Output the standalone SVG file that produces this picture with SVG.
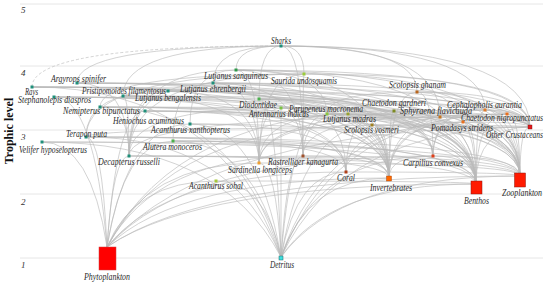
<svg xmlns="http://www.w3.org/2000/svg" width="550" height="286" viewBox="0 0 550 286">
<style>
.e{fill:none;stroke:#b9b9b9;stroke-width:0.75;opacity:0.85}
.g{stroke:#e6e6e6;stroke-width:1}
.l{font-family:"Liberation Serif","Times New Roman",serif;font-style:italic;font-size:9.5px;fill:#2b2b2b}
.ax{font-family:"Liberation Serif","Times New Roman",serif;font-style:italic;font-size:9px;fill:#333}
</style>
<rect width="550" height="286" fill="#fff"/>
<g id="axis">
<line class="g" x1="20" y1="4" x2="543" y2="4" stroke-width="2"/>
<line class="g" x1="20" y1="66" x2="543" y2="66"/>
<line class="g" x1="20" y1="130" x2="543" y2="130"/>
<line class="g" x1="20" y1="194" x2="543" y2="194"/>
<line class="g" x1="20" y1="258" x2="543" y2="258"/>
<text class="ax" x="21" y="13">5</text>
<text class="ax" x="21" y="76">4</text>
<text class="ax" x="21" y="140">3</text>
<text class="ax" x="21" y="205">2</text>
<text class="ax" x="21" y="268">1</text>
<text x="0" y="0" transform="translate(13,131) rotate(-90)" text-anchor="middle" font-family="'Liberation Serif','Times New Roman',serif" font-weight="bold" font-size="12" fill="#111">Trophic level</text>
</g>
<g id="edges">
<path class="e" d="M107,247Q210,176 520,176"/>
<path class="e" d="M281,257Q341,176 520,176"/>
<path class="e" d="M107,247Q199,184 476,184"/>
<path class="e" d="M281,257Q330,184 476,184"/>
<path class="e" d="M107,247Q178,178 389,178"/>
<path class="e" d="M281,257Q308,178 389,178"/>
<path class="e" d="M107,247Q167,172 346,172"/>
<path class="e" d="M520,176Q520,172 346,172"/>
<path class="e" d="M281,257Q297,172 346,172"/>
<path class="e" d="M107,247Q213,127 530,127"/>
<path class="e" d="M281,257Q343,127 530,127"/>
<path class="e" d="M520,176Q520,127 530,127"/>
<path class="e" d="M476,184Q476,127 530,127"/>
<path class="e" d="M476,184Q476,156 433,156"/>
<path class="e" d="M389,178Q389,156 433,156"/>
<path class="e" d="M520,176Q520,156 433,156"/>
<path class="e" d="M281,257Q319,156 433,156"/>
<path class="e" d="M107,247Q189,156 433,156"/>
<path class="e" d="M107,247Q134,181 216,181"/>
<path class="e" d="M281,257Q265,181 216,181"/>
<path class="e" d="M476,184Q476,181 216,181"/>
<path class="e" d="M107,247Q145,163 259,163"/>
<path class="e" d="M520,176Q520,163 259,163"/>
<path class="e" d="M281,257Q276,163 259,163"/>
<path class="e" d="M520,176Q520,156 303,156"/>
<path class="e" d="M107,247Q156,156 303,156"/>
<path class="e" d="M281,257Q287,156 303,156"/>
<path class="e" d="M389,178Q389,156 303,156"/>
<path class="e" d="M520,176Q520,156 129,156"/>
<path class="e" d="M107,247Q113,156 129,156"/>
<path class="e" d="M476,184Q476,156 129,156"/>
<path class="e" d="M389,178Q389,156 129,156"/>
<path class="e" d="M107,247Q124,141 173,141"/>
<path class="e" d="M476,184Q476,141 173,141"/>
<path class="e" d="M389,178Q389,141 173,141"/>
<path class="e" d="M346,172Q346,141 173,141"/>
<path class="e" d="M281,257Q254,141 173,141"/>
<path class="e" d="M520,176Q520,142 42,142"/>
<path class="e" d="M107,247Q91,142 42,142"/>
<path class="e" d="M476,184Q476,142 42,142"/>
<path class="e" d="M281,257Q221,142 42,142"/>
<path class="e" d="M107,247Q102,137 86,137"/>
<path class="e" d="M476,184Q476,137 86,137"/>
<path class="e" d="M389,178Q389,137 86,137"/>
<path class="e" d="M281,257Q232,137 86,137"/>
<path class="e" d="M520,176Q520,137 86,137"/>
<path class="e" d="M86,137Q86,127 530,127"/>
<path class="e" d="M107,247Q128,124 190,124"/>
<path class="e" d="M281,257Q258,124 190,124"/>
<path class="e" d="M476,184Q476,124 190,124"/>
<path class="e" d="M346,172Q346,124 190,124"/>
<path class="e" d="M476,184Q476,125 372,125"/>
<path class="e" d="M389,178Q389,125 372,125"/>
<path class="e" d="M520,176Q520,125 372,125"/>
<path class="e" d="M530,127Q530,125 372,125"/>
<path class="e" d="M281,257Q304,125 372,125"/>
<path class="e" d="M107,247Q173,125 372,125"/>
<path class="e" d="M476,184Q476,122 463,122"/>
<path class="e" d="M389,178Q389,122 463,122"/>
<path class="e" d="M530,127Q530,122 463,122"/>
<path class="e" d="M520,176Q520,122 463,122"/>
<path class="e" d="M433,156Q433,122 463,122"/>
<path class="e" d="M281,257Q327,122 463,122"/>
<path class="e" d="M346,172Q346,111 145,111"/>
<path class="e" d="M520,176Q520,111 145,111"/>
<path class="e" d="M476,184Q476,111 145,111"/>
<path class="e" d="M389,178Q389,111 145,111"/>
<path class="e" d="M107,247Q117,111 145,111"/>
<path class="e" d="M476,184Q476,107 100,107"/>
<path class="e" d="M389,178Q389,107 100,107"/>
<path class="e" d="M530,127Q530,107 100,107"/>
<path class="e" d="M520,176Q520,107 100,107"/>
<path class="e" d="M129,156Q129,107 100,107"/>
<path class="e" d="M281,257Q236,107 100,107"/>
<path class="e" d="M259,163Q259,108 281,108"/>
<path class="e" d="M129,156Q129,108 281,108"/>
<path class="e" d="M476,184Q476,108 281,108"/>
<path class="e" d="M530,127Q530,108 281,108"/>
<path class="e" d="M389,178Q389,108 281,108"/>
<path class="e" d="M281,257L281,108"/>
<path class="e" d="M476,184Q476,114 327,114"/>
<path class="e" d="M389,178Q389,114 327,114"/>
<path class="e" d="M530,127Q530,114 327,114"/>
<path class="e" d="M520,176Q520,114 327,114"/>
<path class="e" d="M433,156Q433,114 327,114"/>
<path class="e" d="M281,257Q293,114 327,114"/>
<path class="e" d="M530,127Q530,114 348,114"/>
<path class="e" d="M476,184Q476,114 348,114"/>
<path class="e" d="M389,178Q389,114 348,114"/>
<path class="e" d="M259,163Q259,114 348,114"/>
<path class="e" d="M303,156Q303,114 348,114"/>
<path class="e" d="M520,176Q520,114 348,114"/>
<path class="e" d="M346,172Q346,111 394,111"/>
<path class="e" d="M520,176Q520,111 394,111"/>
<path class="e" d="M476,184Q476,111 394,111"/>
<path class="e" d="M389,178Q389,111 394,111"/>
<path class="e" d="M107,247Q179,111 394,111"/>
<path class="e" d="M259,163Q259,117 440,117"/>
<path class="e" d="M303,156Q303,117 440,117"/>
<path class="e" d="M129,156Q129,117 440,117"/>
<path class="e" d="M530,127Q530,117 440,117"/>
<path class="e" d="M520,176Q520,117 440,117"/>
<path class="e" d="M530,127Q530,110 485,110"/>
<path class="e" d="M476,184Q476,110 485,110"/>
<path class="e" d="M433,156Q433,110 485,110"/>
<path class="e" d="M389,178Q389,110 485,110"/>
<path class="e" d="M520,176Q520,110 485,110"/>
<path class="e" d="M259,163Q259,110 485,110"/>
<path class="e" d="M346,172Q346,114 507,114"/>
<path class="e" d="M520,176Q520,114 507,114"/>
<path class="e" d="M476,184Q476,114 507,114"/>
<path class="e" d="M389,178Q389,114 507,114"/>
<path class="e" d="M281,257Q338,114 507,114"/>
<path class="e" d="M476,184Q476,99 259,99"/>
<path class="e" d="M389,178Q389,99 259,99"/>
<path class="e" d="M433,156Q433,99 259,99"/>
<path class="e" d="M346,172Q346,99 259,99"/>
<path class="e" d="M530,127Q530,99 259,99"/>
<path class="e" d="M281,257Q276,99 259,99"/>
<path class="e" d="M476,184Q476,97 54,97"/>
<path class="e" d="M389,178Q389,97 54,97"/>
<path class="e" d="M107,247Q94,97 54,97"/>
<path class="e" d="M346,172Q346,97 54,97"/>
<path class="e" d="M520,176Q520,97 54,97"/>
<path class="e" d="M530,127Q530,96 123,96"/>
<path class="e" d="M476,184Q476,96 123,96"/>
<path class="e" d="M520,176Q520,96 123,96"/>
<path class="e" d="M129,156Q129,96 123,96"/>
<path class="e" d="M259,163Q259,96 123,96"/>
<path class="e" d="M389,178Q389,96 123,96"/>
<path class="e" d="M530,127Q530,91 168,91"/>
<path class="e" d="M476,184Q476,91 168,91"/>
<path class="e" d="M389,178Q389,91 168,91"/>
<path class="e" d="M259,163Q259,91 168,91"/>
<path class="e" d="M129,156Q129,91 168,91"/>
<path class="e" d="M86,137Q86,91 168,91"/>
<path class="e" d="M520,176Q520,91 168,91"/>
<path class="e" d="M530,127Q530,83 213,83"/>
<path class="e" d="M476,184Q476,83 213,83"/>
<path class="e" d="M389,178Q389,83 213,83"/>
<path class="e" d="M259,163Q259,83 213,83"/>
<path class="e" d="M303,156Q303,83 213,83"/>
<path class="e" d="M129,156Q129,83 213,83"/>
<path class="e" d="M173,141Q173,83 213,83"/>
<path class="e" d="M520,176Q520,83 213,83"/>
<path class="e" d="M476,184Q476,87 32,87"/>
<path class="e" d="M389,178Q389,87 32,87"/>
<path class="e" d="M530,127Q530,87 32,87"/>
<path class="e" d="M433,156Q433,87 32,87"/>
<path class="e" d="M281,257Q219,87 32,87"/>
<path class="e" d="M520,176Q520,87 32,87"/>
<path class="e" d="M476,184Q476,83 77,83"/>
<path class="e" d="M389,178Q389,83 77,83"/>
<path class="e" d="M530,127Q530,83 77,83"/>
<path class="e" d="M433,156Q433,83 77,83"/>
<path class="e" d="M520,176Q520,83 77,83"/>
<path class="e" d="M129,156Q129,83 77,83"/>
<path class="e" d="M476,184Q476,92 417,92"/>
<path class="e" d="M389,178Q389,92 417,92"/>
<path class="e" d="M530,127Q530,92 417,92"/>
<path class="e" d="M520,176Q520,92 417,92"/>
<path class="e" d="M433,156Q433,92 417,92"/>
<path class="e" d="M327,114Q327,92 417,92"/>
<path class="e" d="M259,163Q259,74 304,74"/>
<path class="e" d="M303,156Q303,74 304,74"/>
<path class="e" d="M129,156Q129,74 304,74"/>
<path class="e" d="M530,127Q530,74 304,74"/>
<path class="e" d="M520,176Q520,74 304,74"/>
<path class="e" d="M86,137Q86,74 304,74"/>
<path class="e" d="M100,107Q100,74 304,74"/>
<path class="e" d="M530,127Q530,70 236,70"/>
<path class="e" d="M476,184Q476,70 236,70"/>
<path class="e" d="M389,178Q389,70 236,70"/>
<path class="e" d="M259,163Q259,70 236,70"/>
<path class="e" d="M303,156Q303,70 236,70"/>
<path class="e" d="M129,156Q129,70 236,70"/>
<path class="e" d="M190,124Q190,70 236,70"/>
<path class="e" d="M327,114Q327,70 236,70"/>
<path class="e" d="M520,176Q520,70 236,70"/>
<path class="e" d="M32,87Q32,46 281,46" stroke-dasharray="3,2"/>
<path class="e" d="M236,70Q236,46 281,46"/>
<path class="e" d="M304,74Q304,46 281,46"/>
<path class="e" d="M417,92Q417,46 281,46"/>
<path class="e" d="M213,83Q213,46 281,46"/>
<path class="e" d="M123,96Q123,46 281,46"/>
<path class="e" d="M77,83Q77,46 281,46"/>
<path class="e" d="M440,117Q440,46 281,46"/>
<path class="e" d="M259,99Q259,46 281,46"/>
<path class="e" d="M485,110Q485,46 281,46"/>
<path class="e" d="M530,127Q530,46 281,46"/>
<path class="e" d="M303,156Q303,46 281,46"/>
</g>
<g id="sharks"><rect x="279.5" y="44.5" width="3" height="3" fill="#1f8f7a"/><text class="l" x="271" y="44" textLength="20" lengthAdjust="spacingAndGlyphs">Sharks</text></g>
<g id="lutjanus-sanguineus"><rect x="234.5" y="68.5" width="3" height="3" fill="#2e9a4a"/><text class="l" x="204" y="79" textLength="64" lengthAdjust="spacingAndGlyphs">Lutjanus sanguineus</text></g>
<g id="saurida-undosquamis"><rect x="302.5" y="72.5" width="3" height="3" fill="#9ccc3a"/><text class="l" x="271" y="84" textLength="66" lengthAdjust="spacingAndGlyphs">Saurida undosquamis</text></g>
<g id="scolopsis-ghanam"><rect x="415.5" y="90.5" width="3" height="3" fill="#b8661e"/><text class="l" x="389" y="88" textLength="57" lengthAdjust="spacingAndGlyphs">Scolopsis ghanam</text></g>
<g id="argyrops-spinifer"><rect x="75.5" y="81.5" width="3" height="3" fill="#1f8f7a"/><text class="l" x="51" y="82" textLength="55" lengthAdjust="spacingAndGlyphs">Argyrops spinifer</text></g>
<g id="rays"><rect x="30.5" y="85.5" width="3" height="3" fill="#1f8f7a"/><text class="l" x="25" y="95" textLength="13" lengthAdjust="spacingAndGlyphs">Rays</text></g>
<g id="lutjanus-ehrenbergii"><rect x="211.5" y="81.5" width="3" height="3" fill="#1f8f7a"/><text class="l" x="180" y="92" textLength="66" lengthAdjust="spacingAndGlyphs">Lutjanus ehrenbergii</text></g>
<g id="lutjanus-bengalensis"><rect x="166.5" y="89.5" width="3" height="3" fill="#1f8f7a"/><text class="l" x="135" y="101" textLength="66" lengthAdjust="spacingAndGlyphs">Lutjanus bengalensis</text></g>
<g id="pristipomoides-filamentosus"><rect x="121.5" y="94.5" width="3" height="3" fill="#1f8f7a"/><text class="l" x="82" y="94" textLength="84" lengthAdjust="spacingAndGlyphs">Pristipomoides filamentosus</text></g>
<g id="stephanolepis-diaspros"><rect x="52.5" y="95.5" width="3" height="3" fill="#1f8f7a"/><text class="l" x="18" y="103" textLength="73" lengthAdjust="spacingAndGlyphs">Stephanolepis diaspros</text></g>
<g id="diodontidae"><rect x="257.5" y="97.5" width="3" height="3" fill="#4caf50"/><text class="l" x="239" y="108" textLength="38" lengthAdjust="spacingAndGlyphs">Diodontidae</text></g>
<g id="antennarius-indicus"><rect x="279.5" y="106.5" width="3" height="3" fill="#7cc242"/><text class="l" x="249" y="117" textLength="60" lengthAdjust="spacingAndGlyphs">Antennarius indicus</text></g>
<g id="parupeneus-macronema"><rect x="325.5" y="112.5" width="3" height="3" fill="#8cc63f"/><text class="l" x="289" y="112" textLength="74" lengthAdjust="spacingAndGlyphs">Parupeneus macronema</text></g>
<g id="lutjanus-madras"><rect x="346.5" y="112.5" width="3" height="3" fill="#98a030"/><text class="l" x="323" y="122" textLength="53" lengthAdjust="spacingAndGlyphs">Lutjanus madras</text></g>
<g id="chaetodon-gardneri"><rect x="392.5" y="109.5" width="3" height="3" fill="#7d8a22"/><text class="l" x="362" y="106" textLength="64" lengthAdjust="spacingAndGlyphs">Chaetodon gardneri</text></g>
<g id="sphyraena-flavicauda"><rect x="438.5" y="115.5" width="3" height="3" fill="#c8751e"/><text class="l" x="400" y="114" textLength="72" lengthAdjust="spacingAndGlyphs">Sphyraena flavicauda</text></g>
<g id="cephalopholis-aurantia"><rect x="483.5" y="108.5" width="3" height="3" fill="#e07b2a"/><text class="l" x="447" y="108" textLength="75" lengthAdjust="spacingAndGlyphs">Cephalopholis aurantia</text></g>
<g id="chaetodon-nigropunctatus"><rect x="505.5" y="112.5" width="3" height="3" fill="#e8701e"/><text class="l" x="461" y="121" textLength="82" lengthAdjust="spacingAndGlyphs">Chaetodon nigropunctatus</text></g>
<g id="pomadasys-stridens"><rect x="461.5" y="120.5" width="3" height="3" fill="#e8701e"/><text class="l" x="431" y="131" textLength="62" lengthAdjust="spacingAndGlyphs">Pomadasys stridens</text></g>
<g id="other-crustaceans"><rect x="528" y="125" width="4" height="4" fill="#e41a1c" stroke="#7a1010" stroke-width="0.4"/><text class="l" x="486" y="138" textLength="57" lengthAdjust="spacingAndGlyphs">Other Crustaceans</text></g>
<g id="scolopsis-vosmeri"><rect x="370.5" y="123.5" width="3" height="3" fill="#a08020"/><text class="l" x="344" y="133" textLength="55" lengthAdjust="spacingAndGlyphs">Scolopsis vosmeri</text></g>
<g id="nemipterus-bipunctatus"><rect x="98.5" y="105.5" width="3" height="3" fill="#1f8f7a"/><text class="l" x="63" y="114" textLength="77" lengthAdjust="spacingAndGlyphs">Nemipterus bipunctatus</text></g>
<g id="heniochus-acuminatus"><rect x="143.5" y="109.5" width="3" height="3" fill="#1f8f7a"/><text class="l" x="113" y="124" textLength="71" lengthAdjust="spacingAndGlyphs">Heniochus acuminatus</text></g>
<g id="acanthurus-xanthopterus"><rect x="188.5" y="122.5" width="3" height="3" fill="#1f8f7a"/><text class="l" x="151" y="133" textLength="79" lengthAdjust="spacingAndGlyphs">Acanthurus xanthopterus</text></g>
<g id="terapon-puta"><rect x="84.5" y="135.5" width="3" height="3" fill="#1f8f7a"/><text class="l" x="66" y="137" textLength="41" lengthAdjust="spacingAndGlyphs">Terapon puta</text></g>
<g id="velifer-hyposelopterus"><rect x="40.5" y="140.5" width="3" height="3" fill="#1f8f7a"/><text class="l" x="19" y="153" textLength="68" lengthAdjust="spacingAndGlyphs">Velifer hyposelopterus</text></g>
<g id="alutera-monoceros"><rect x="171.5" y="139.5" width="3" height="3" fill="#4cb04c"/><text class="l" x="143" y="150" textLength="59" lengthAdjust="spacingAndGlyphs">Alutera monoceros</text></g>
<g id="decapterus-russelli"><rect x="127.5" y="154.5" width="3" height="3" fill="#1f8f7a"/><text class="l" x="98" y="165" textLength="62" lengthAdjust="spacingAndGlyphs">Decapterus russelli</text></g>
<g id="acanthurus-sohal"><rect x="214.5" y="179.5" width="3" height="3" fill="#a5c83a"/><text class="l" x="189" y="189" textLength="54" lengthAdjust="spacingAndGlyphs">Acanthurus sohal</text></g>
<g id="sardinella-longiceps"><rect x="257.5" y="161.5" width="3" height="3" fill="#f0a030"/><text class="l" x="228" y="173" textLength="64" lengthAdjust="spacingAndGlyphs">Sardinella longiceps</text></g>
<g id="rastrelliger-kanagurta"><rect x="301.5" y="154.5" width="3" height="3" fill="#a0522d"/><text class="l" x="268" y="165" textLength="70" lengthAdjust="spacingAndGlyphs">Rastrelliger kanagurta</text></g>
<g id="coral"><rect x="344.5" y="170.5" width="3" height="3" fill="#b0401a"/><text class="l" x="337" y="181" textLength="18" lengthAdjust="spacingAndGlyphs">Coral</text></g>
<g id="invertebrates"><rect x="386.5" y="176" width="5" height="5" fill="#ff6a00" stroke="#9a3a00" stroke-width="0.4"/><text class="l" x="370" y="191" textLength="42" lengthAdjust="spacingAndGlyphs">Invertebrates</text></g>
<g id="carpilius-convexus"><rect x="431.5" y="154.5" width="3" height="3" fill="#e0401a"/><text class="l" x="403" y="166" textLength="60" lengthAdjust="spacingAndGlyphs">Carpilius convexus</text></g>
<g id="benthos"><rect x="471" y="181" width="11" height="13" fill="#ff1a00" stroke="#8a1a10" stroke-width="0.5"/><text class="l" x="464" y="204" textLength="25" lengthAdjust="spacingAndGlyphs">Benthos</text></g>
<g id="zooplankton"><rect x="514.5" y="173" width="11" height="14" fill="#ff1a00" stroke="#8a1a10" stroke-width="0.5"/><text class="l" x="502" y="196" textLength="40" lengthAdjust="spacingAndGlyphs">Zooplankton</text></g>
<g id="detritus"><rect x="279" y="256" width="4" height="4" fill="#40e0e0" stroke="#1a6a6a" stroke-width="0.5"/><text class="l" x="270" y="268" textLength="24" lengthAdjust="spacingAndGlyphs">Detritus</text></g>
<g id="phytoplankton"><rect x="99" y="247" width="17" height="23" fill="#ff0000" stroke="#d04040" stroke-width="0.5"/><text class="l" x="84" y="280" textLength="46" lengthAdjust="spacingAndGlyphs">Phytoplankton</text></g>
</svg>
